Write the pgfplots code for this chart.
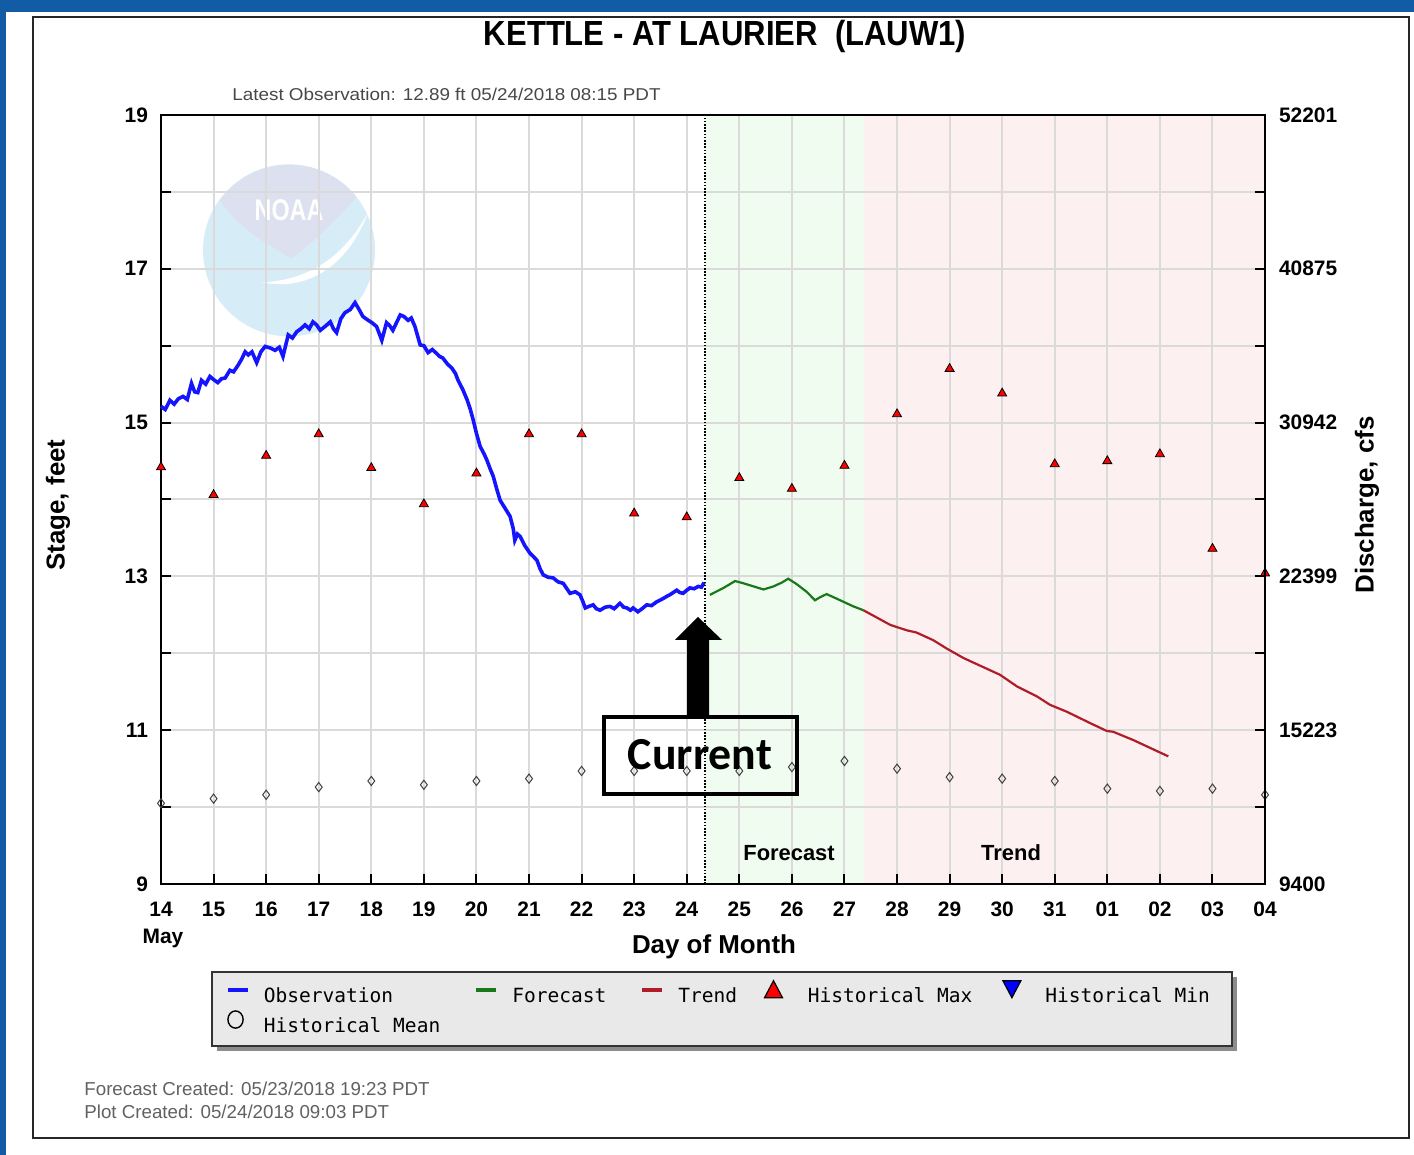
\documentclass[border=0pt]{standalone}
\usepackage{graphicx}
\usepackage{fontspec}
\setmainfont{Liberation Sans}
\newfontfamily\monofont{DejaVu Sans Mono}
\newfontfamily\carlito{Carlito}
\usepackage{pgfplots}
\pgfplotsset{compat=1.18}
\definecolor{obsblue}{RGB}{20,20,255}
\definecolor{fcgreen}{RGB}{25,120,25}
\definecolor{trendred}{RGB}{175,30,40}
\definecolor{fcbg}{RGB}{240,252,240}
\definecolor{trbg}{RGB}{253,240,240}
\definecolor{gridgray}{RGB}{218,218,218}
\definecolor{slideblue}{RGB}{18,92,165}
\definecolor{logoblue}{RGB}{214,236,246}
\definecolor{logolav}{RGB}{221,225,239}
\definecolor{legfill}{RGB}{233,233,233}
\begin{document}
\begin{tikzpicture}
\begin{scope}[x=0.5bp,y=-0.5bp,yshift=577.5bp]
  \path (0,0) rectangle (1414,1155);
  \fill[slideblue] (0,0) rectangle (1414,12);
  \fill[slideblue] (0,0) rectangle (6,1155);
  \draw[black!85, line width=1bp] (33,17) rectangle (1409,1138);
  % legend box
  \fill[black!45] (217,977) rectangle (1237,1051);
  \filldraw[fill=legfill, draw=black!80, line width=0.8bp] (212,972) rectangle (1232,1046);
  % texts
  \node[font=\bfseries\fontsize{17.5}{18}\selectfont, inner sep=0] at (725,37) {\scalebox{0.89}[1]{KETTLE - AT LAURIER\ \ (LAUW1)}};
  \node[anchor=west, inner sep=0, text=black!72, font=\fontsize{8.6}{10}\selectfont] at (232,94) {\scalebox{1.1}[1]{Latest Observation: 12.89 ft 05/24/2018 08:15 PDT}};
  \node[font=\bfseries\fontsize{10.5}{12}\selectfont, inner sep=0] at (163,938) {May};
  \node[anchor=west, inner sep=0, text=black!62, font=\fontsize{9.4}{10}\selectfont] at (84,1089) {Forecast Created: 05/23/2018 19:23 PDT};
  \node[anchor=west, inner sep=0, text=black!62, font=\fontsize{9.4}{10}\selectfont] at (84,1112) {Plot Created: 05/24/2018 09:03 PDT};
\end{scope}

\begin{axis}[
  at={(80.5bp,135.5bp)}, anchor=south west,
  scale only axis, width=552bp, height=384.5bp,
  xmin=0, xmax=21, ymin=9, ymax=19,
  xtick={0,...,21},
  xticklabels={14,15,16,17,18,19,20,21,22,23,24,25,26,27,28,29,30,31,01,02,03,04},
  ytick={9,...,19},
  yticklabels={9,,11,,13,,15,,17,,19},
  tick pos=left, tick align=inside,
  major tick length=5bp,
  every tick/.style={black, line width=1bp},
  grid=major,
  major grid style={gridgray, line width=1bp},
  axis line style={black, line width=1bp},
  tick label style={font=\bfseries\fontsize{10.5}{12}\selectfont},
  xticklabel style={yshift=-5.5bp},
  yticklabel style={xshift=-3bp},
  xlabel={Day of Month},
  xlabel style={font=\bfseries\fontsize{13}{15}\selectfont, at={(rel axis cs:0.5009,-0.0819)}, anchor=center},
  ylabel={Stage, feet},
  ylabel style={font=\bfseries\fontsize{13}{15}\selectfont, at={(rel axis cs:-0.0933,0.4928)}, anchor=center},
  clip=false,
  set layers,
  legend columns=5,
  legend cell align=left,
  legend style={at={(rel axis cs:0.0588,-0.125)}, anchor=north west, draw=none, fill=none,
    inner sep=0pt, outer sep=0pt, font=\monofont\fontsize{9.8}{11}\selectfont, row sep=2bp,
    nodes={inner sep=0pt, text height=7.5bp, text depth=2bp},
    /tikz/column 1/.append style={column sep=7bp},
    /tikz/column 2/.append style={column sep=17bp},
    /tikz/column 3/.append style={column sep=7bp},
    /tikz/column 4/.append style={column sep=17bp},
    /tikz/column 5/.append style={column sep=7bp},
    /tikz/column 6/.append style={column sep=13bp},
    /tikz/column 7/.append style={column sep=12bp},
    /tikz/column 8/.append style={column sep=14.5bp},
    /tikz/column 9/.append style={column sep=11.5bp}},
]
\begin{pgfonlayer}{axis background}
  \fill[fcbg] (axis cs:10.348,9) rectangle (axis cs:13.37,19);
  \fill[trbg] (axis cs:13.37,9) rectangle (axis cs:21,19);
  \begin{scope}[shift={(axis cs:2.435,17.24)}]
    \fill[logoblue] (0bp,0bp) circle [radius=43bp];
    \fill[logolav] (-34.5bp,25bp) arc[start angle=144, end angle=39, radius=43bp]
      .. controls (23bp,14bp) and (10.5bp,2.5bp) .. (1bp,-4bp)
      .. controls (-9.5bp,2.5bp) and (-24.5bp,10bp) .. (-34.5bp,25bp) -- cycle;
    \fill[white] (-13.5bp,-16bp) .. controls (10.5bp,-15bp) and (28bp,-2.5bp) .. (39.5bp,19bp)
      .. controls (30.5bp,-6bp) and (10.5bp,-21bp) .. (-13.5bp,-16bp) -- cycle;
    \node[text=white, inner sep=0] at (0bp,20bp) {\scalebox{0.78}[1]{\bfseries\fontsize{15}{15}\selectfont NOAA}};
  \end{scope}
\end{pgfonlayer}

% Observation
\addplot[obsblue, line width=1.8bp, forget plot] coordinates {
(0.00,15.21)(0.08,15.17)(0.17,15.29)(0.25,15.24)(0.33,15.31)(0.42,15.34)(0.50,15.30)(0.58,15.51)(0.64,15.40)(0.70,15.39)
(0.77,15.55)(0.85,15.50)(0.93,15.60)(1.00,15.56)(1.08,15.52)(1.15,15.57)(1.22,15.58)(1.31,15.68)(1.38,15.66)(1.47,15.75)
(1.53,15.82)(1.60,15.92)(1.66,15.88)(1.73,15.92)(1.82,15.78)(1.90,15.92)(1.98,15.99)(2.08,15.97)(2.17,15.94)(2.25,15.98)
(2.32,15.86)(2.42,16.14)(2.50,16.10)(2.58,16.18)(2.66,16.22)(2.74,16.27)(2.82,16.22)(2.89,16.31)(2.96,16.27)(3.03,16.20)
(3.12,16.25)(3.22,16.31)(3.28,16.22)(3.34,16.17)(3.42,16.35)(3.50,16.43)(3.60,16.47)(3.69,16.56)(3.76,16.48)(3.84,16.38)
(3.92,16.34)(4.01,16.30)(4.10,16.25)(4.20,16.07)(4.29,16.30)(4.35,16.26)(4.41,16.20)(4.48,16.30)(4.55,16.40)(4.62,16.38)
(4.70,16.33)(4.76,16.36)(4.83,16.25)(4.93,16.01)(5.00,16.00)(5.08,15.91)(5.16,15.95)(5.24,15.90)(5.30,15.86)(5.36,15.84)
(5.45,15.76)(5.53,15.71)(5.60,15.64)(5.65,15.55)(5.74,15.43)(5.82,15.30)(5.88,15.18)(5.94,15.03)(6.00,14.86)(6.07,14.69)
(6.14,14.60)(6.20,14.51)(6.26,14.40)(6.32,14.30)(6.38,14.15)(6.45,13.99)(6.55,13.88)(6.64,13.78)(6.70,13.62)(6.73,13.47)
(6.78,13.55)(6.83,13.52)(6.92,13.40)(7.02,13.30)(7.08,13.26)(7.15,13.21)(7.21,13.10)(7.27,13.02)(7.36,12.99)(7.46,12.98)
(7.55,12.93)(7.65,12.91)(7.72,12.84)(7.78,12.78)(7.88,12.80)(7.97,12.76)(8.02,12.68)(8.07,12.59)(8.14,12.61)(8.22,12.63)
(8.28,12.58)(8.35,12.56)(8.45,12.60)(8.54,12.61)(8.62,12.58)(8.73,12.65)(8.80,12.60)(8.86,12.59)(8.93,12.56)(8.98,12.59)
(9.07,12.54)(9.15,12.58)(9.24,12.63)(9.33,12.62)(9.43,12.67)(9.52,12.70)(9.62,12.74)(9.70,12.77)(9.81,12.82)(9.87,12.79)
(9.93,12.78)(10.00,12.82)(10.06,12.85)(10.14,12.84)(10.22,12.87)(10.28,12.86)(10.33,12.92)};

% Forecast
\addplot[fcgreen, line width=1.1bp, forget plot] coordinates {
(10.44,12.76)(10.70,12.85)(10.92,12.94)(11.08,12.91)(11.27,12.87)(11.46,12.83)(11.65,12.87)(11.81,12.92)(11.93,12.97)
(12.09,12.90)(12.28,12.80)(12.44,12.69)(12.54,12.73)(12.66,12.77)(12.79,12.73)(12.98,12.67)(13.17,12.61)(13.36,12.56)};

% Trend
\addplot[trendred, line width=1.1bp, forget plot] coordinates {
(13.36,12.56)(13.87,12.37)(14.18,12.30)(14.37,12.27)(14.69,12.17)(14.95,12.06)(15.26,11.94)(15.45,11.88)(15.96,11.72)
(16.28,11.57)(16.66,11.44)(16.91,11.33)(17.23,11.24)(17.68,11.09)(17.99,10.99)(18.11,10.98)(18.50,10.87)(19.16,10.66)};

% Historical max
\addplot[only marks, mark=triangle*, mark size=2.6bp, mark options={fill=red, draw=black, line width=0.4bp}, forget plot] coordinates {
(0,14.42)(1,14.06)(2,14.57)(3,14.85)(4,14.41)(5,13.94)(6,14.34)(7,14.85)(8,14.85)(9,13.82)(10,13.77)
(11,14.28)(12,14.14)(13,14.44)(14,15.11)(15,15.70)(16,15.38)(17,14.46)(18,14.50)(19,14.59)(20,13.36)(21,13.04)};

% Historical mean
\addplot[only marks, mark=diamond, mark size=2.3bp, mark options={draw=black!75, line width=0.5bp}, forget plot] coordinates {
(0,10.05)(1,10.11)(2,10.16)(3,10.26)(4,10.34)(5,10.29)(6,10.34)(7,10.37)(8,10.47)(9,10.47)(10,10.47)
(11,10.47)(12,10.52)(13,10.60)(14,10.50)(15,10.39)(16,10.37)(17,10.34)(18,10.24)(19,10.21)(20,10.24)(21,10.16)};

\draw[black, line width=0.8bp, dash pattern=on 0.8bp off 0.8bp] (axis cs:10.348,9) -- (axis cs:10.348,19);
\node[font=\bfseries\fontsize{11}{12}\selectfont] at (axis cs:11.946,9.403) {Forecast};
\node[font=\bfseries\fontsize{11}{12}\selectfont] at (axis cs:16.169,9.403) {Trend};

\addlegendimage{legend image code/.code={\draw[obsblue,line width=2bp] (0bp,3.5bp) -- (10bp,3.5bp);}}
\addlegendentry{Observation}
\addlegendimage{legend image code/.code={\draw[fcgreen,line width=2bp] (0bp,3.5bp) -- (10bp,3.5bp);}}
\addlegendentry{Forecast}
\addlegendimage{legend image code/.code={\draw[trendred,line width=2bp] (0bp,3.5bp) -- (10bp,3.5bp);}}
\addlegendentry{Trend}
\addlegendimage{legend image code/.code={\path (0bp,0bp) (10bp,0bp); \filldraw[fill=red,draw=black,line width=0.6bp] (0.5bp,-0.5bp) -- (9.5bp,-0.5bp) -- (5bp,8bp) -- cycle;}}
\addlegendentry{Historical Max}
\addlegendimage{legend image code/.code={\path (0bp,0bp) (10bp,0bp); \filldraw[fill=blue,draw=black,line width=0.6bp] (0.5bp,8bp) -- (9.5bp,8bp) -- (5bp,-0.5bp) -- cycle;}}
\addlegendentry{Historical Min}
\addlegendimage{legend image code/.code={\path (0bp,0bp) (10bp,0bp); \draw[black,line width=0.7bp] (3.8bp,3.5bp) ellipse [x radius=3.8bp, y radius=4.3bp];}}
\addlegendentry{Historical Mean}
\end{axis}

\begin{axis}[
  at={(80.5bp,135.5bp)}, anchor=south west,
  scale only axis, width=552bp, height=384.5bp,
  xmin=0, xmax=21, ymin=9, ymax=19,
  axis x line=none, axis y line*=right,
  ytick={9,...,19},
  yticklabels={9400,,15223,,22399,,30942,,40875,,52201},
  tick align=inside, major tick length=5bp,
  every tick/.style={black, line width=1bp},
  axis line style={black, line width=1bp},
  yticklabel style={font=\bfseries\fontsize{10.5}{12}\selectfont, xshift=3.5bp},
  ylabel={Discharge, cfs},
  ylabel style={font=\bfseries\fontsize{13}{15}\selectfont, at={(rel axis cs:1.0924,0.4928)}, anchor=center},
]
\addplot[draw=none, forget plot] coordinates {(0,9)};
\end{axis}

\begin{scope}[x=0.5bp,y=-0.5bp,yshift=577.5bp]
  \draw[black, line width=2bp] (604,717) rectangle (797,794);
  \fill[black] (687,717) -- (687,640) -- (675,640) -- (698,617) -- (722,640) -- (709,640) -- (709,717) -- cycle;
  \node[anchor=base, inner sep=0, font=\carlito\bfseries\fontsize{23}{23}\selectfont] at (700,770) {Current};
\end{scope}
\end{tikzpicture}
\end{document}
